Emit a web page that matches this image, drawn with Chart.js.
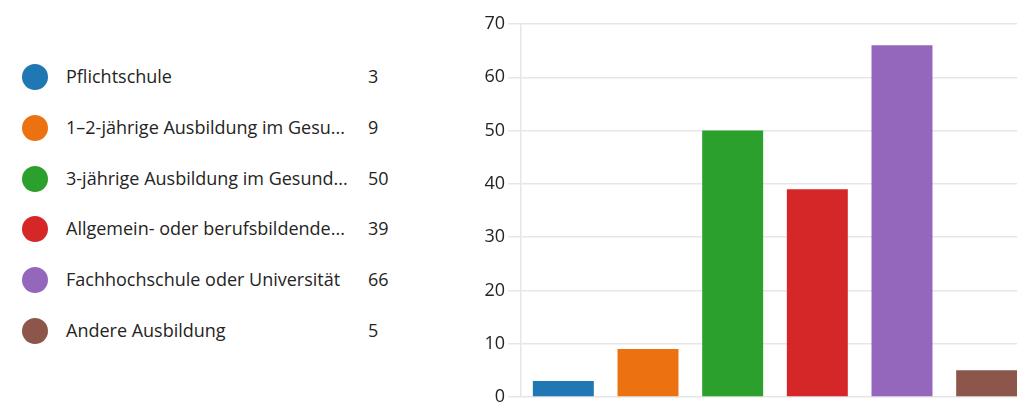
<!DOCTYPE html>
<html>
<head>
<meta charset="utf-8">
<script src="https://cdn.jsdelivr.net/npm/chart.js@4/dist/chart.umd.min.js"></script>
<style>
  html, body { margin: 0; padding: 0; background: #fff; overflow: hidden; }
  body { width: 1017px; height: 404px; position: relative; font-family: "Open Sans", "Noto Sans", sans-serif; color: #252423; }
  #legend { position: absolute; left: 0; top: 0; }
  .row { position: absolute; left: 0; height: 30px; width: 420px; font-size: 18px; }
  .dot { position: absolute; left: 22px; top: 2px; width: 26px; height: 26px; border-radius: 50%; }
  .lbl { position: absolute; left: 66px; top: 2px; white-space: nowrap; }
  .val { position: absolute; left: 368px; top: 2px; }
  #wrap { position: absolute; left: 460px; top: 0; width: 580px; height: 420px; }
</style>
</head>
<body>
<div id="legend"></div>
<div id="wrap"><canvas id="chart"></canvas></div>
<script>
const categories = [
    'Pflichtschule',
    '1–2-jährige Ausbildung im Gesu...',
    '3-jährige Ausbildung im Gesund...',
    'Allgemein- oder berufsbildende...',
    'Fachhochschule oder Universität',
    'Andere Ausbildung'
];
const counts = [3, 9, 50, 39, 66, 5];
const colors = ['#1f77b4', '#ec7211', '#2ca02c', '#d62728', '#9467bd', '#8c564b'];
const yTicks = [0, 10, 20, 30, 40, 50, 60, 70];

// Legend on the left, built from the same arrays
const legend = document.getElementById('legend');
categories.forEach((c, i) => {
    const row = document.createElement('div');
    row.className = 'row';
    row.style.top = (62 + i * 50.8) + 'px';
    row.innerHTML = '<span class="dot" style="background:' + colors[i] + '"></span>' +
        '<span class="lbl">' + c + '</span><span class="val">' + counts[i] + '</span>';
    legend.appendChild(row);
});

const ctx = document.getElementById('chart').getContext('2d');
new Chart(ctx, {
    type: 'bar',
    data: {
        labels: categories,
        datasets: [{
            data: counts,
            backgroundColor: colors,
            categoryPercentage: 1,
            barPercentage: 0.72
        }]
    },
    options: {
        responsive: true,
        maintainAspectRatio: false,
        animation: false,
        layout: { padding: { top: 24, bottom: 23, right: 11, left: 0 } },
        plugins: { legend: { display: false }, tooltip: { enabled: false } },
        scales: {
            x: { display: false },
            y: {
                min: 0,
                max: 70,
                afterFit: s => { s.width = 61; },
                afterBuildTicks: s => { s.ticks = yTicks.map(v => ({ value: v })); },
                grid: { color: '#e6e6e6', tickLength: 13, lineWidth: 1.5 },
                border: { color: '#e6e6e6', width: 1.5 },
                ticks: { padding: 3, color: '#252423', font: { family: 'Open Sans', size: 18 } }
            }
        }
    }
});
</script>
</body>
</html>
